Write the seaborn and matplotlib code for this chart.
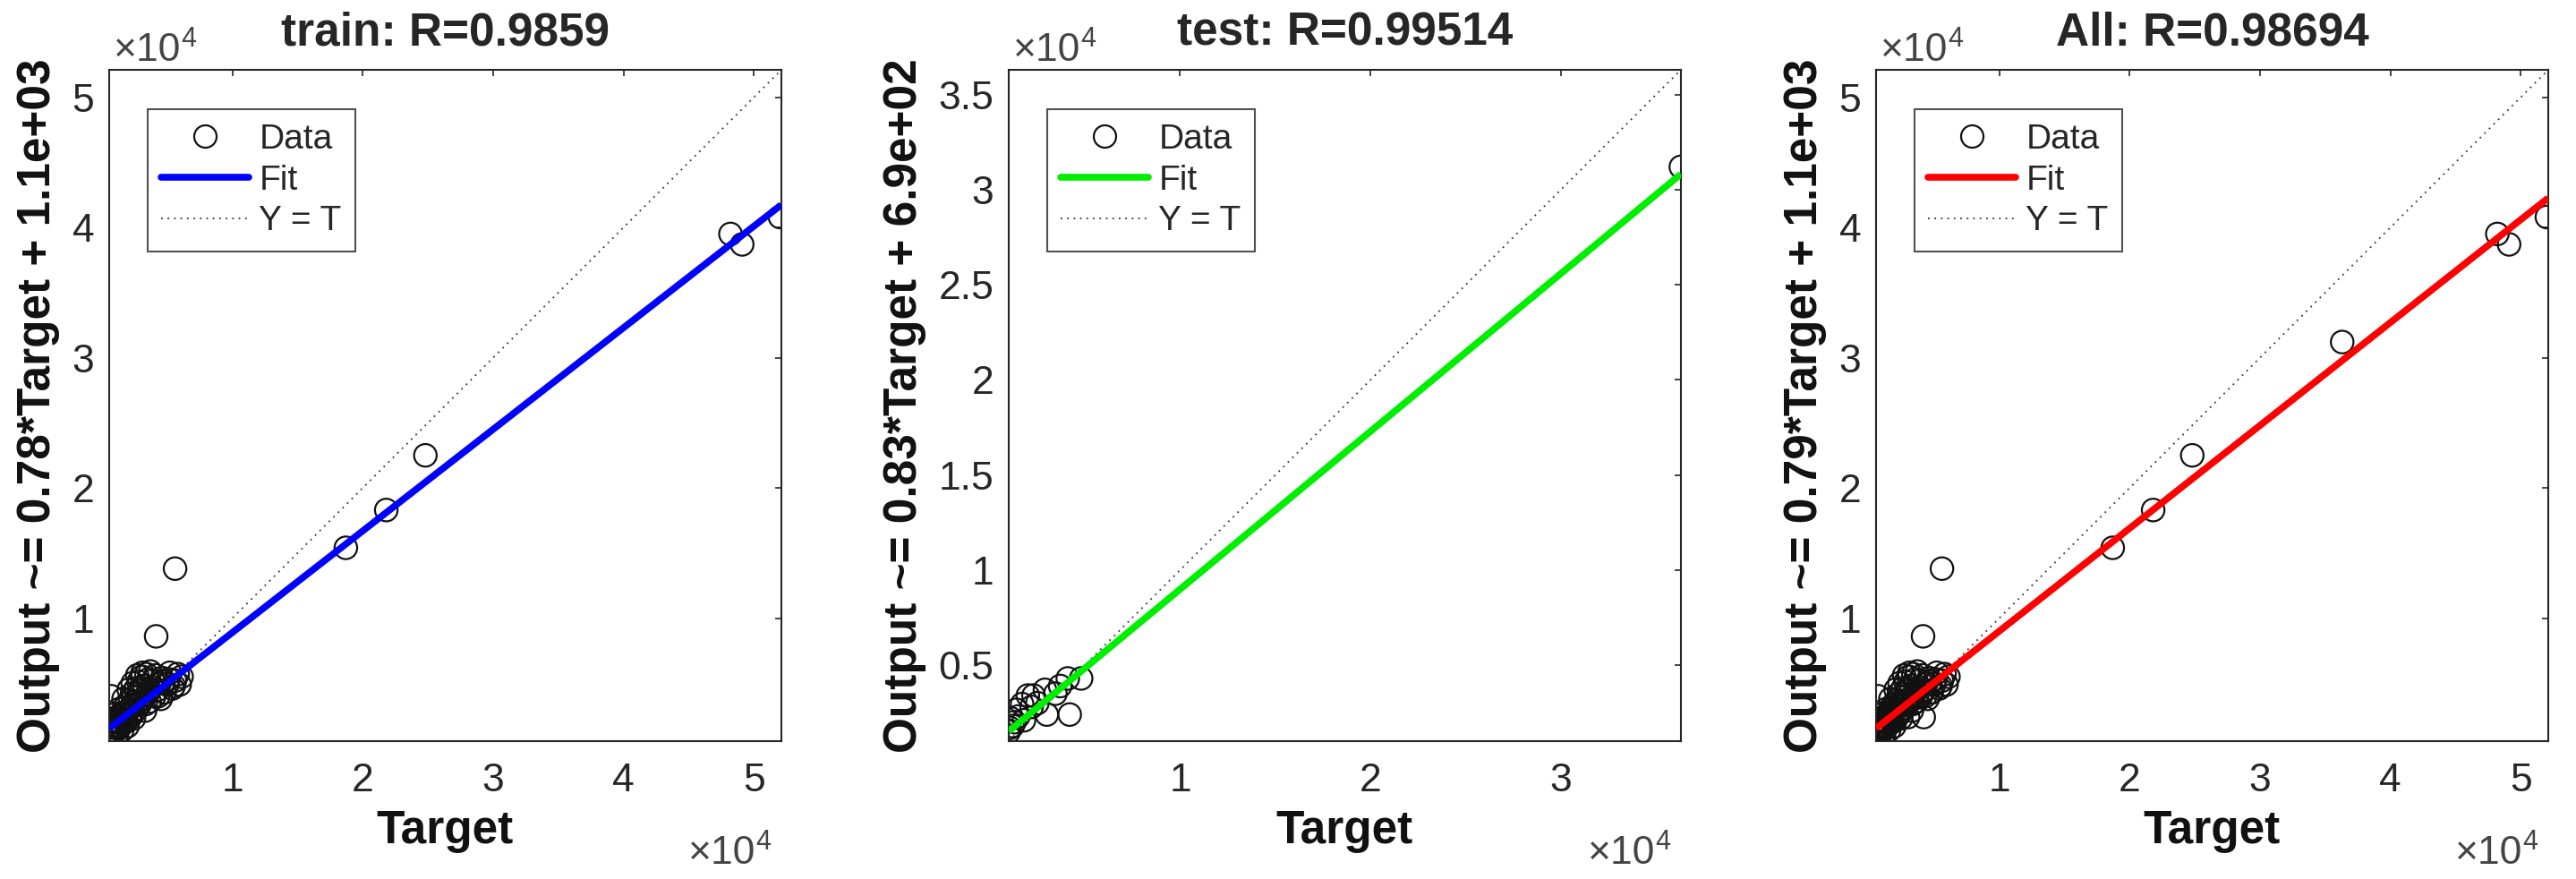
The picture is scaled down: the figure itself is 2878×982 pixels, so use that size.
import numpy as np
import matplotlib
matplotlib.use('Agg')
import matplotlib.pyplot as plt
import seaborn as sns
from matplotlib.lines import Line2D
from matplotlib.ticker import FuncFormatter

# Data (targets / network outputs)
train_target = [52000, 49100, 48200, 24800, 21800, 18700, 5600, 4150, 700,
                550, 620, 750, 900, 980, 1100, 1200, 1250, 1350, 1450, 1500,
                1600, 1700, 1750, 1850, 1900, 2000, 2100, 2150, 2250, 2300,
                2400, 2500, 2600, 2650, 2750, 2800, 2900, 3000, 3050, 3150,
                3250, 3300, 3400, 3500, 3550, 3650, 3700, 3800, 3900, 4000,
                4100, 4250, 4400, 4500, 4600, 4800, 5000, 5200, 5400, 5600,
                5800, 5950, 6100, 1000, 1300, 1650, 2050, 2350, 2700, 3100,
                850, 1150, 1550, 1950, 2450, 600, 680, 820, 950, 1050, 1400,
                1800, 2200, 2550, 2850, 3350, 3600, 4300, 4700, 5100, 5500]
train_output = [40800, 38700, 39500, 22500, 18300, 15400, 13800, 8600, 4000,
                1050, 1200, 1400, 1300, 1800, 1650, 2100, 1500, 2400, 1900, 2700,
                2250, 3100, 2000, 2600, 3400, 2900, 2300, 3700, 3200, 4200,
                2700, 3600, 4600, 3000, 4000, 5100, 3400, 4400, 5500, 3800,
                4800, 2900, 5700, 4200, 5300, 3600, 5900, 4700, 5200, 4000,
                5600, 4500, 5000, 3800, 5400, 4300, 4900, 5800, 4600, 5200,
                5700, 4900, 5500, 2600, 3000, 3800, 4500, 5000, 5600, 5800,
                2200, 1100, 1400, 1700, 2300, 1600, 900, 1700, 1250, 2000, 1700,
                2800, 2500, 3300, 4400, 3400, 4500, 4000, 5100, 5300, 4800]

test_target = [36300, 4800, 4100, 4200, 3000, 2300, 1000, 1100, 1400, 1700,
               2000, 2900, 3450, 1200, 1500, 2500, 1800, 3700, 1300, 2200, 1050]
test_output = [31200, 4300, 4300, 2400, 2400, 3400, 1500, 2200, 2650, 2950,
               3400, 3700, 3500, 1800, 2300, 3000, 2100, 3900, 2000, 2800, 1700]

all_target = train_target + test_target
all_output = train_output + test_output

panel_titles = ['train: R=0.9859', 'test: R=0.99514', 'All: R=0.98694']
slopes = [0.78, 0.83, 0.79]
intercepts = [1.1e3, 6.9e2, 1.1e3]
intercept_text = ['1.1e+03', '6.9e+02', '1.1e+03']
fit_colors = ['#0000ff', '#00ee00', '#ff0000']
limits = [(550, 52100), (1000, 36300), (550, 52100)]
tick_sets = [[10000, 20000, 30000, 40000, 50000],
             [10000, 20000, 30000],
             [10000, 20000, 30000, 40000, 50000]]
ytick_sets = [[10000, 20000, 30000, 40000, 50000],
              [5000, 10000, 15000, 20000, 25000, 30000, 35000],
              [10000, 20000, 30000, 40000, 50000]]
datasets = [(train_target, train_output), (test_target, test_output),
            (all_target, all_output)]

sns.set_style('white')
plt.rcParams['font.family'] = ['Liberation Sans', 'DejaVu Sans']

grey = '#262626'
fig = plt.figure(figsize=(28.78, 9.82), dpi=100)
lefts = [0.0424, 0.3916, 0.7283]

fmt = FuncFormatter(lambda v, p: '%g' % (v / 1e4))


def exponent_label(ax, x, y, ha):
    # "x10" with a raised "4", MATLAB style
    base = ax.text(x, y, '\u00d710', transform=ax.transAxes, fontsize=32,
                   color='#444444', ha='left', va='baseline')
    sup = ax.annotate('4', xy=(1, 0.62), xycoords=base, fontsize=22,
                      color='#444444', ha='left', va='baseline')
    if ha == 'right':
        fig.canvas.draw()
        r = fig.canvas.get_renderer()
        w = (base.get_window_extent(r).width + sup.get_window_extent(r).width)
        w_ax = w / ax.get_window_extent(r).width
        base.set_x(x - w_ax)


for i in range(3):
    ax = fig.add_axes([lefts[i], 0.1568, 0.2609, 0.7637])
    t, y = datasets[i]
    lo, hi = limits[i]

    sns.scatterplot(x=t, y=y, ax=ax, s=330, marker='o', edgecolor='#111111',
                    linewidth=1.6, zorder=2)
    ax.collections[0].set_facecolor('none')

    xs = np.array([lo, hi])
    ax.plot(xs, slopes[i] * xs + intercepts[i], color=fit_colors[i], lw=5.5,
            zorder=3, solid_capstyle='butt')
    ax.plot(xs, xs, color='#333333', lw=1.3, ls=(0, (1, 3)), zorder=1)

    ax.set_xlim(lo, hi)
    ax.set_ylim(lo, hi)
    ax.set_xticks(tick_sets[i])
    ax.set_yticks(ytick_sets[i])
    ax.xaxis.set_major_formatter(fmt)
    ax.yaxis.set_major_formatter(fmt)
    ax.tick_params(direction='in', length=5, width=1.2, colors=grey,
                   labelsize=32, top=True, right=True)
    ax.tick_params(axis='x', pad=17)
    ax.tick_params(axis='y', pad=12)
    for sp in ax.spines.values():
        sp.set_color(grey)
        sp.set_linewidth(1.5)

    ax.set_title(panel_titles[i], fontsize=37, fontweight='bold', pad=20)
    ax.set_xlabel('Target', fontsize=37, fontweight='bold', color='#111111',
                  labelpad=8)
    ax.set_ylabel('Output ~= %.2f*Target + %s' % (slopes[i], intercept_text[i]),
                  fontsize=37, fontweight='bold', color='#111111', labelpad=10)

    exponent_label(ax, 0.006, 1.013, 'left')
    exponent_label(ax, 0.985, -0.183, 'right')

    handles = [Line2D([], [], marker='o', ls='none', mfc='none', mec='#111111',
                      ms=18, mew=1.6),
               Line2D([], [], color=fit_colors[i], lw=5.5),
               Line2D([], [], color='#333333', lw=1.3, ls=(0, (1, 3)))]
    leg = ax.legend(handles, ['Data', 'Fit', 'Y = T'], loc='upper left',
                    bbox_to_anchor=(0.057, 0.941), borderaxespad=0,
                    fontsize=28, frameon=True, fancybox=False,
                    handlelength=2.5, handletextpad=0.3, labelspacing=0.25,
                    borderpad=0.4)
    leg.get_frame().set_edgecolor(grey)
    leg.get_frame().set_linewidth(1.5)
    for txt in leg.get_texts():
        txt.set_color(grey)

fig.savefig('out.png', dpi=100)
